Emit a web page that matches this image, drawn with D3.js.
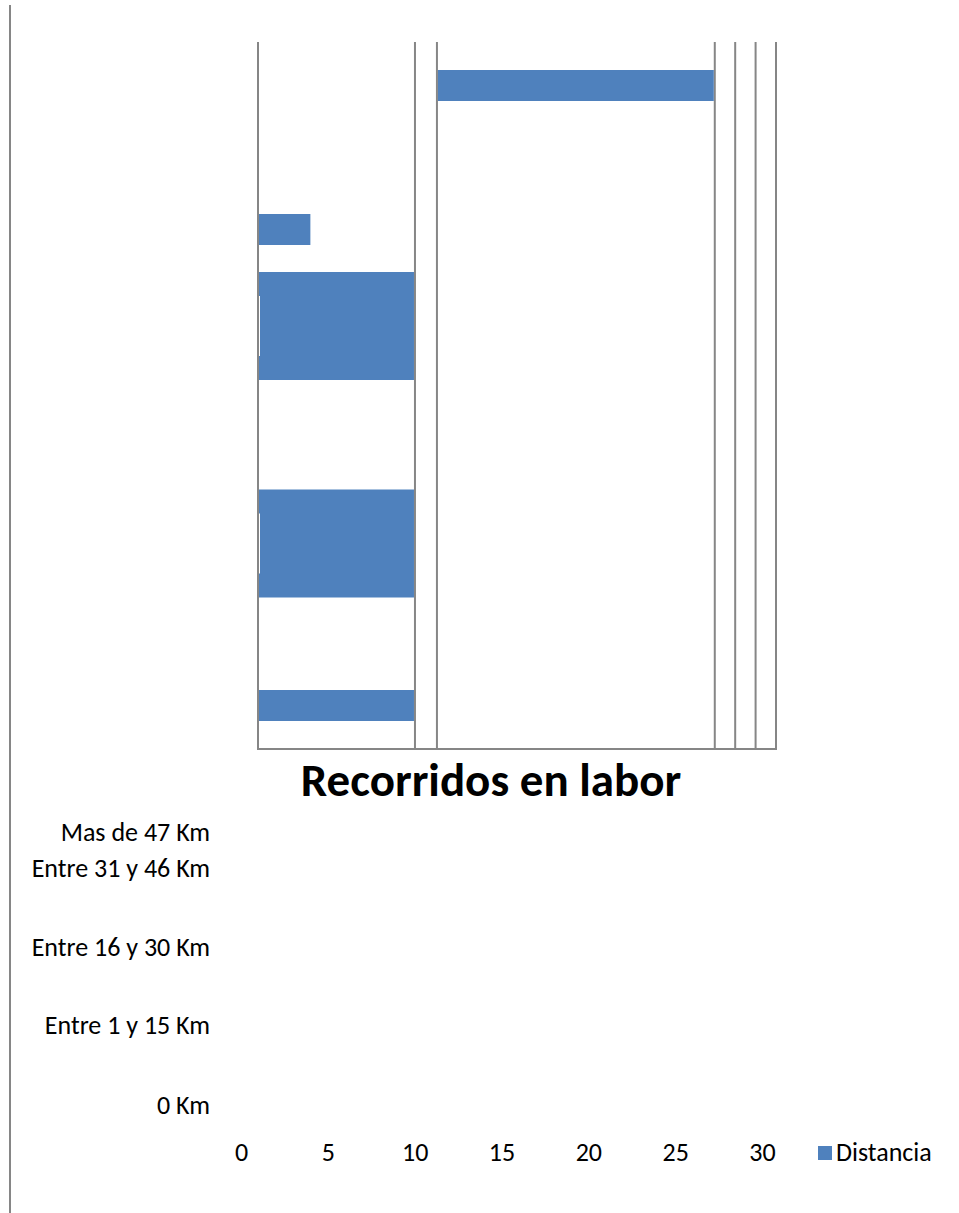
<!DOCTYPE html>
<html>
<head>
<meta charset="utf-8">
<script src="https://cdn.jsdelivr.net/npm/d3@7"></script>
<style>
  body { margin: 0; background: #fff; }
  text { font-family: Carlito, Calibri, Lato, sans-serif; fill: #000; }
</style>
</head>
<body>
<div id="chart"></div>
<script>
// categories, bottom to top
const categories = ['0 Km', 'Entre 1 y 15 Km', 'Entre 16 y 30 Km', 'Entre 31 y 46 Km', 'Mas de 47 Km']
// bars as drawn inside the (shifted) plot area
const barStart = [0, 0, 0, 0, 11.4]
const barEnd = [10, 10, 10, 3.4, 29.1]
const gridValues = [0, 10, 11.4, 29.1, 30.4, 31.7, 33]
const axisTicks = [0, 5, 10, 15, 20, 25, 30]
const seriesName = 'Distancia'
const title = 'Recorridos en labor'

const W = 959, H = 1213
const blue = '#4F81BD', grey = '#868686'

const svg = d3.select('#chart').append('svg')
  .attr('width', W).attr('height', H)

svg.append('rect').attr('width', W).attr('height', H).attr('fill', '#fff')

// outer frame line on the left
svg.append('line')
  .attr('x1', 10).attr('x2', 10).attr('y1', 5).attr('y2', H)
  .attr('stroke', grey).attr('stroke-width', 2)

// plot area (drawn offset from its labels)
const plot = {left: 258, right: 776, top: 42, bottom: 749}
const xPlot = d3.scaleLinear().domain([0, 33]).range([plot.left, plot.right])
// bar centres per category index, uneven as in the original
const yBar = d3.scaleLinear().domain([0, 1, 2, 3, 4]).range([705.5, 543.5, 326, 229.5, 85.5])
const barH = [31, 108, 108, 31, 31]

svg.append('g').selectAll('line')
  .data(gridValues)
  .join('line')
  .attr('x1', d => xPlot(d)).attr('x2', d => xPlot(d))
  .attr('y1', plot.top).attr('y2', plot.bottom)
  .attr('stroke', grey).attr('stroke-width', 2)

svg.append('line')
  .attr('x1', plot.left - 1).attr('x2', xPlot(33) + 1)
  .attr('y1', plot.bottom).attr('y2', plot.bottom)
  .attr('stroke', grey).attr('stroke-width', 2)

svg.append('g').selectAll('rect')
  .data(categories)
  .join('rect')
  .attr('x', (d, i) => xPlot(barStart[i]) + 1)
  .attr('width', (d, i) => xPlot(barEnd[i]) - xPlot(barStart[i]) - 2)
  .attr('y', (d, i) => yBar(i) - barH[i] / 2)
  .attr('height', (d, i) => barH[i])
  .attr('fill', blue)

// thin white slivers on the tall bars
svg.append('g').selectAll('line')
  .data([1, 2])
  .join('line')
  .attr('x1', xPlot(0) + 1.5).attr('x2', xPlot(0) + 1.5)
  .attr('y1', i => yBar(i) - 30).attr('y2', i => yBar(i) + 30)
  .attr('stroke', '#fff').attr('stroke-width', 1)

// title
svg.append('text')
  .attr('x', 491).attr('y', 796)
  .attr('text-anchor', 'middle')
  .style('font-size', '47px').style('font-weight', 'bold')
  .text(title)

// category axis (labels only)
const yCat = d3.scaleOrdinal().domain(categories).range([1105, 1025, 947, 868, 832])
svg.append('g')
  .attr('transform', 'translate(210,0)')
  .call(d3.axisLeft(yCat).tickSize(0).tickPadding(0))
  .call(g => g.select('.domain').remove())
  .call(g => g.selectAll('text').style('font-size', '26px').style('font-family', null))

// value axis (labels only)
const xAxisScale = d3.scaleLinear().domain([0, 30]).range([241, 762])
svg.append('g')
  .attr('transform', 'translate(0,1142.5)')
  .call(d3.axisBottom(xAxisScale).tickValues(axisTicks).tickSize(0).tickPadding(0))
  .call(g => g.select('.domain').remove())
  .call(g => g.selectAll('text').style('font-size', '26px').style('font-family', null))

// legend
const legend = svg.append('g').attr('transform', 'translate(818,1146)')
legend.append('rect').attr('width', 14).attr('height', 14).attr('fill', blue)
legend.append('text').attr('x', 18).attr('y', 15).style('font-size', '26px').text(seriesName)
</script>
</body>
</html>
